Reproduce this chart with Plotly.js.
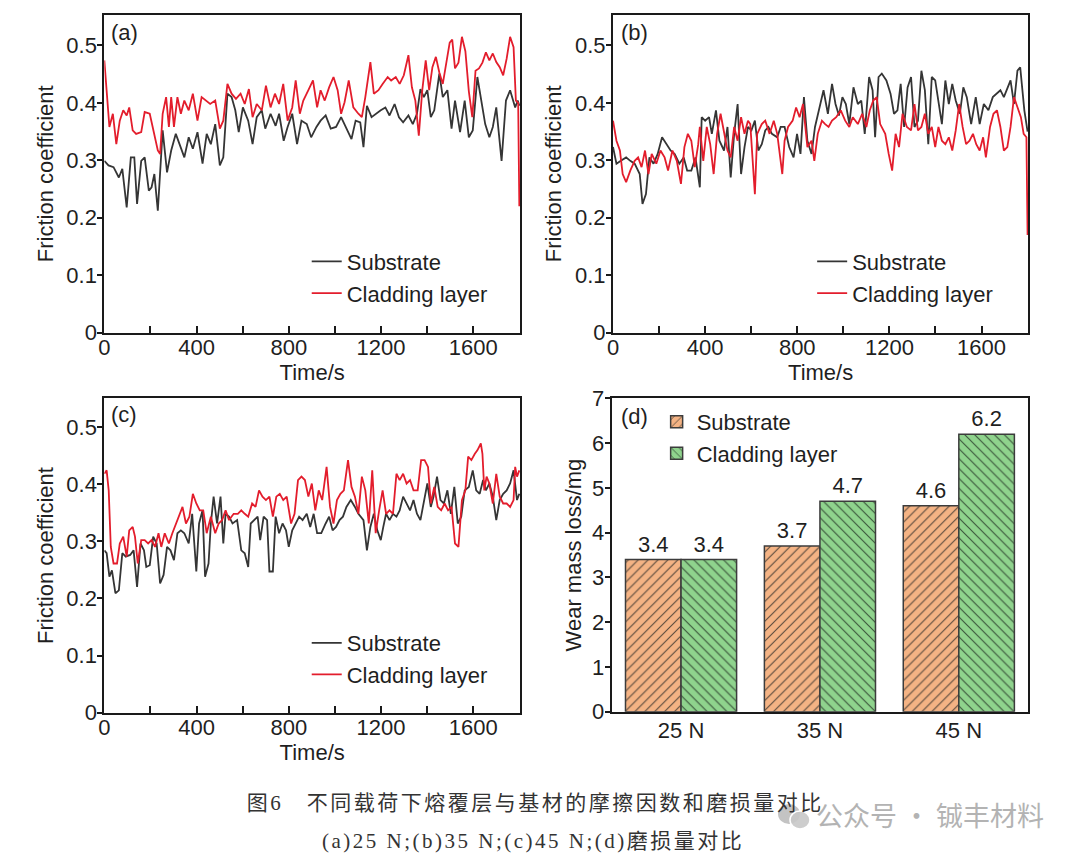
<!DOCTYPE html>
<html>
<head>
<meta charset="utf-8">
<script src="https://cdn.plot.ly/plotly-3.0.1.min.js"></script>
<style>
html,body{margin:0;padding:0;background:#fff;}
#chart{width:1080px;height:857px;}
</style>
</head>
<body>
<div id="chart"></div>
<script>
// ---------- (a) 25 N ----------
const timeA_sub = [0,18,40,63,78,97,115,130,142,160,
175,193,205,217,232,242,253,272,290,310,
329,347,366,384,404,426,444,462,481,501,
516,534,552,568,583,601,624,643,661,683,
698,721,743,758,778,795,815,836,855,878,
897,920,938,960,982,1005,1027,1050,1072,1090,
1110,1124,1139,1159,1177,1199,1219,1237,1259,1278,
1296,1319,1338,1356,1371,1386,1401,1416,1431,1453,
1468,1488,1506,1521,1543,1563,1581,1598,1618,1633,
1652,1670,1685,1700,1723,1742,1760,1782,1793,1800];
const fricA_sub = [0.299,0.291,0.288,0.270,0.285,0.218,0.305,0.305,0.224,0.299,
0.305,0.247,0.253,0.276,0.212,0.288,0.352,0.279,0.317,0.346,
0.323,0.305,0.340,0.320,0.349,0.294,0.346,0.328,0.363,0.291,
0.305,0.416,0.410,0.387,0.349,0.392,0.369,0.328,0.375,0.387,
0.355,0.381,0.360,0.381,0.334,0.358,0.381,0.328,0.369,0.363,
0.340,0.358,0.369,0.378,0.355,0.358,0.375,0.355,0.337,0.369,
0.366,0.323,0.395,0.375,0.381,0.387,0.392,0.378,0.398,0.375,
0.366,0.378,0.363,0.381,0.424,0.410,0.422,0.375,0.387,0.451,
0.410,0.422,0.355,0.404,0.349,0.404,0.340,0.352,0.445,0.410,
0.363,0.340,0.358,0.392,0.299,0.404,0.422,0.392,0.404,0.395];
const timeA_clad = [0,10,22,37,52,67,82,97,108,123,
138,160,175,197,217,232,242,253,268,280,
290,302,317,332,347,366,384,404,422,441,
459,481,501,516,534,552,571,591,609,627,
643,661,683,701,721,740,758,776,795,815,
830,848,863,885,905,923,938,956,975,994,
1012,1027,1042,1060,1080,1102,1117,1132,1154,1169,
1189,1207,1229,1244,1264,1281,1299,1319,1334,1349,
1364,1379,1394,1409,1423,1438,1453,1468,1483,1498,
1509,1521,1536,1551,1566,1581,1596,1610,1625,1640,
1655,1670,1685,1700,1715,1730,1745,1760,1775,1785,
1795,1800];
const fricA_clad = [0.474,0.427,0.358,0.381,0.328,0.369,0.387,0.378,0.392,0.352,
0.346,0.349,0.384,0.381,0.346,0.317,0.311,0.381,0.410,0.358,
0.410,0.358,0.410,0.381,0.404,0.387,0.416,0.369,0.410,0.404,
0.398,0.404,0.355,0.369,0.433,0.416,0.407,0.416,0.398,0.424,
0.375,0.398,0.387,0.430,0.392,0.416,0.398,0.433,0.369,0.392,
0.439,0.381,0.404,0.422,0.439,0.392,0.422,0.404,0.427,0.445,
0.422,0.381,0.401,0.439,0.392,0.381,0.375,0.410,0.471,0.416,
0.422,0.433,0.445,0.439,0.445,0.433,0.448,0.483,0.427,0.404,
0.343,0.422,0.474,0.422,0.462,0.480,0.453,0.433,0.470,0.505,
0.510,0.460,0.470,0.515,0.490,0.420,0.375,0.456,0.460,0.470,
0.488,0.474,0.486,0.471,0.462,0.448,0.477,0.515,0.497,0.404,
0.400,0.220];

// ---------- (b) 35 N ----------
const timeB_sub = [0,15,34,57,75,94,116,128,143,158,
176,194,213,233,250,268,288,307,322,340,
358,377,385,400,417,429,447,462,482,497,
511,526,541,556,571,586,601,616,631,646,
661,675,690,713,728,745,765,784,799,814,
829,844,862,877,895,914,933,951,966,981,
996,1011,1026,1044,1063,1078,1093,1112,1127,1138,
1153,1167,1187,1205,1220,1235,1249,1264,1279,1294,
1309,1324,1339,1354,1369,1384,1399,1413,1428,1443,
1458,1473,1488,1506,1521,1536,1555,1575,1592,1610,
1630,1649,1667,1682,1697,1712,1726,1741,1756,1768,
1779,1786,1800];
const fricB_sub = [0.323,0.294,0.299,0.305,0.299,0.294,0.276,0.224,0.241,0.305,
0.294,0.311,0.340,0.328,0.317,0.311,0.294,0.305,0.282,0.282,
0.305,0.253,0.375,0.369,0.375,0.346,0.387,0.334,0.317,0.358,
0.270,0.346,0.398,0.276,0.323,0.358,0.352,0.369,0.317,0.328,
0.352,0.358,0.346,0.340,0.358,0.358,0.323,0.305,0.346,0.311,
0.410,0.334,0.311,0.358,0.387,0.422,0.381,0.433,0.398,0.378,
0.410,0.398,0.363,0.427,0.398,0.404,0.346,0.445,0.422,0.340,
0.445,0.451,0.439,0.416,0.381,0.387,0.433,0.358,0.427,0.445,
0.358,0.369,0.456,0.422,0.328,0.445,0.439,0.404,0.363,0.439,
0.398,0.433,0.404,0.381,0.427,0.410,0.363,0.410,0.363,0.398,
0.387,0.410,0.416,0.422,0.410,0.427,0.439,0.398,0.456,0.462,
0.416,0.387,0.350];
const timeB_clad = [0,15,30,42,57,75,94,109,124,139,
154,168,188,206,224,239,258,277,295,310,
325,340,355,370,377,392,407,422,437,452,
467,482,497,511,526,541,556,571,586,596,
616,626,646,661,680,698,713,735,745,760,
780,795,810,825,844,862,874,889,907,921,
936,951,969,989,1008,1026,1041,1063,1082,1100,
1115,1130,1145,1160,1182,1197,1212,1227,1242,1257,
1276,1294,1309,1324,1339,1354,1369,1384,1399,1413,
1428,1443,1458,1473,1488,1503,1518,1533,1548,1563,
1577,1592,1607,1619,1637,1652,1667,1682,1697,1712,
1726,1741,1756,1771,1783,1795,1800];
const fricB_clad = [0.369,0.334,0.317,0.276,0.262,0.282,0.299,0.305,0.288,0.317,
0.276,0.311,0.294,0.317,0.305,0.282,0.317,0.299,0.259,0.323,
0.346,0.334,0.288,0.328,0.358,0.299,0.358,0.328,0.276,0.346,
0.381,0.352,0.317,0.305,0.358,0.334,0.375,0.346,0.369,0.363,
0.241,0.346,0.363,0.369,0.346,0.369,0.346,0.276,0.334,0.358,
0.369,0.392,0.375,0.398,0.323,0.334,0.299,0.346,0.369,0.363,
0.358,0.369,0.375,0.387,0.369,0.358,0.375,0.363,0.381,0.358,
0.387,0.404,0.410,0.363,0.346,0.311,0.282,0.346,0.323,0.381,
0.358,0.352,0.398,0.352,0.358,0.381,0.346,0.358,0.323,0.358,
0.334,0.328,0.340,0.317,0.352,0.398,0.358,0.328,0.334,0.346,
0.328,0.317,0.340,0.305,0.358,0.381,0.387,0.358,0.317,0.323,
0.358,0.410,0.392,0.375,0.346,0.340,0.170];

// ---------- (c) 45 N ----------
const timeC_sub = [0,10,22,33,48,63,78,93,112,127,
142,157,172,182,197,212,227,242,257,272,
287,302,317,332,347,366,381,399,411,426,
437,452,462,474,489,504,516,526,541,556,
576,594,609,624,635,650,665,676,691,706,
716,731,743,758,773,788,800,815,830,845,
860,878,893,908,923,941,960,975,990,1005,
1020,1035,1050,1069,1087,1102,1124,1139,1154,1169,
1184,1199,1210,1222,1237,1252,1267,1281,1296,1311,
1326,1341,1356,1371,1386,1401,1416,1428,1443,1458,
1473,1488,1503,1518,1533,1548,1563,1581,1598,1613,
1628,1643,1655,1670,1685,1700,1715,1730,1745,1760,
1775,1790,1800];
const fricC_sub = [0.284,0.279,0.238,0.249,0.209,0.214,0.279,0.273,0.276,0.284,
0.220,0.296,0.284,0.255,0.258,0.308,0.296,0.226,0.241,0.290,
0.284,0.267,0.314,0.319,0.314,0.296,0.348,0.247,0.331,0.354,
0.238,0.261,0.331,0.378,0.331,0.378,0.296,0.348,0.343,0.331,
0.337,0.284,0.279,0.255,0.331,0.337,0.343,0.302,0.343,0.337,
0.247,0.247,0.343,0.314,0.331,0.319,0.290,0.319,0.331,0.343,
0.337,0.348,0.325,0.348,0.314,0.314,0.331,0.343,0.319,0.325,
0.337,0.343,0.360,0.372,0.360,0.348,0.337,0.284,0.325,0.348,
0.319,0.302,0.325,0.348,0.337,0.348,0.343,0.354,0.378,0.366,
0.354,0.372,0.348,0.337,0.372,0.401,0.360,0.378,0.413,0.372,
0.366,0.389,0.348,0.395,0.331,0.343,0.389,0.395,0.424,0.389,
0.383,0.407,0.389,0.401,0.378,0.337,0.372,0.383,0.389,0.401,
0.424,0.372,0.383];
const timeC_clad = [0,10,19,28,40,55,67,82,97,108,
123,133,145,160,175,190,205,220,235,247,
262,280,295,310,324,339,354,369,384,399,
414,429,444,462,481,496,511,526,541,561,
579,594,609,624,641,656,671,686,701,716,
731,746,761,776,791,810,825,840,855,870,
885,900,915,930,945,964,979,994,1009,1024,
1039,1057,1072,1087,1102,1117,1132,1147,1162,1177,
1192,1207,1222,1237,1252,1267,1281,1296,1311,1326,
1341,1359,1374,1389,1404,1416,1431,1446,1461,1476,
1491,1506,1521,1536,1551,1566,1578,1592,1607,1618,
1633,1640,1648,1658,1670,1685,1700,1715,1730,1745,
1760,1775,1782,1790,1800];
const fricC_clad = [0.418,0.424,0.389,0.290,0.261,0.261,0.296,0.308,0.273,0.319,
0.325,0.308,0.261,0.302,0.302,0.296,0.302,0.290,0.314,0.290,
0.314,0.296,0.314,0.331,0.343,0.360,0.331,0.343,0.383,0.366,
0.354,0.354,0.314,0.343,0.314,0.331,0.337,0.354,0.337,0.348,
0.348,0.354,0.348,0.343,0.366,0.360,0.389,0.378,0.372,0.378,
0.343,0.378,0.383,0.372,0.378,0.331,0.348,0.407,0.413,0.407,
0.378,0.401,0.354,0.389,0.372,0.430,0.360,0.331,0.372,0.383,
0.389,0.442,0.395,0.378,0.348,0.413,0.389,0.331,0.424,0.314,
0.354,0.389,0.348,0.354,0.348,0.418,0.407,0.418,0.401,0.407,
0.389,0.389,0.442,0.442,0.430,0.366,0.395,0.360,0.354,0.366,
0.354,0.360,0.296,0.290,0.372,0.389,0.448,0.442,0.453,0.459,
0.471,0.453,0.389,0.413,0.401,0.366,0.418,0.378,0.366,0.366,
0.360,0.372,0.430,0.413,0.424];

// ---------- (d) wear mass loss ----------
const loads = ["25 N", "35 N", "45 N"];
const wearSub = [3.4, 3.7, 4.6];
const wearClad = [3.4, 4.7, 6.2];

const seriesNames = ["Substrate", "Cladding layer"];
const panelLabels = ["(a)", "(b)", "(c)", "(d)"];
const xTitle = "Time/s";
const yTitleFric = "Friction coefficient";
const yTitleWear = "Wear mass loss/mg";
const caption1 = "图6\u3000不同载荷下熔覆层与基材的摩擦因数和磨损量对比";
const caption2 = "(a)25 N;(b)35 N;(c)45 N;(d)磨损量对比";
const watermark = "公众号 · 铖丰材料";

// ---------- styling ----------
const FONT = "Liberation Sans, Arial, Helvetica, sans-serif";
const TXT = "#1f1f1f";
const AX = "#1a1a1a";
const C_SUB = "#353535";
const C_CLAD = "#e31d2c";
const ORANGE = "#f4b384";
const GREEN = "#8fd38d";

function timeAxis(domain, anchor) {
  return {
    domain: domain, anchor: anchor, range: [0, 1803],
    tick0: 0, dtick: 400, ticks: "inside", ticklen: 7, tickwidth: 2, tickcolor: AX,
    minor: {dtick: 200, ticks: "inside", ticklen: 7, tickwidth: 2, tickcolor: AX},
    showline: true, linewidth: 2, linecolor: AX, mirror: true,
    showgrid: false, zeroline: false, automargin: false,
    ticklabelstandoff: -6,
    tickfont: {family: FONT, size: 22, color: TXT},
    title: {text: xTitle, font: {family: FONT, size: 22, color: TXT}, standoff: 0}
  };
}
function fricAxis(domain, anchor, top) {
  return {
    domain: domain, anchor: anchor, range: [0, top],
    tick0: 0, dtick: 0.1, ticks: "outside", ticklen: 5, tickwidth: 2, tickcolor: AX,
    showline: true, linewidth: 2, linecolor: AX, mirror: true,
    showgrid: false, zeroline: false, automargin: false,
    ticklabelstandoff: -4,
    tickfont: {family: FONT, size: 22, color: TXT},
    title: {text: yTitleFric, font: {family: FONT, size: 22, color: TXT}, standoff: 7}
  };
}
function legendBox(x, y) {
  return {x: x, y: y, xanchor: "left", yanchor: "middle", bgcolor: "rgba(0,0,0,0)",
    borderwidth: 0, tracegroupgap: 0, itemwidth: 30,
    font: {family: FONT, size: 22, color: TXT}};
}
function lineTrace(t, v, name, color, xa, ya, lg) {
  return {type: "scatter", mode: "lines", x: t, y: v, name: name,
    line: {color: color, width: 1.8}, xaxis: xa, yaxis: ya, legend: lg, cliponaxis: true};
}

const traces = [
  lineTrace(timeA_sub, fricA_sub, seriesNames[0], C_SUB, "x", "y", "legend"),
  lineTrace(timeA_clad, fricA_clad, seriesNames[1], C_CLAD, "x", "y", "legend"),
  lineTrace(timeB_sub, fricB_sub, seriesNames[0], C_SUB, "x2", "y2", "legend2"),
  lineTrace(timeB_clad, fricB_clad, seriesNames[1], C_CLAD, "x2", "y2", "legend2"),
  lineTrace(timeC_sub, fricC_sub, seriesNames[0], C_SUB, "x3", "y3", "legend3"),
  lineTrace(timeC_clad, fricC_clad, seriesNames[1], C_CLAD, "x3", "y3", "legend3"),
  {type: "bar", x: loads, y: wearSub, name: seriesNames[0], xaxis: "x4", yaxis: "y4", legend: "legend4",
   marker: {color: ORANGE, line: {color: "#3c3c3c", width: 1.5},
            pattern: {shape: "/", bgcolor: ORANGE, fgcolor: "#5a4a3c", size: 7, solidity: 0.16, fillmode: "replace"}},
   texttemplate: "%{y:.1f}", textposition: "outside", cliponaxis: false,
   textfont: {family: FONT, size: 22, color: TXT}},
  {type: "bar", x: loads, y: wearClad, name: seriesNames[1], xaxis: "x4", yaxis: "y4", legend: "legend4",
   marker: {color: GREEN, line: {color: "#3c3c3c", width: 1.5},
            pattern: {shape: "\\", bgcolor: GREEN, fgcolor: "#3a543a", size: 7, solidity: 0.16, fillmode: "replace"}},
   texttemplate: "%{y:.1f}", textposition: "outside", cliponaxis: false,
   textfont: {family: FONT, size: 22, color: TXT}}
];

const labelFont = {family: FONT, size: 22, color: TXT};
function panelLabel(text, x, y) {
  return {text: text, xref: "paper", yref: "paper", x: x, y: y, xanchor: "left", yanchor: "middle",
    showarrow: false, font: labelFont};
}

const layout = {
  width: 1080, height: 857,
  margin: {l: 0, r: 0, t: 0, b: 0},
  paper_bgcolor: "#ffffff", plot_bgcolor: "#ffffff",
  showlegend: true,
  barmode: "group", bargap: 0.2, bargroupgap: 0,
  xaxis: timeAxis([0.0966, 0.4815], "y"),
  yaxis: fricAxis([0.612, 0.9825], "x", 0.553),
  xaxis2: timeAxis([0.5676, 0.9521], "y2"),
  yaxis2: fricAxis([0.612, 0.9825], "x2", 0.553),
  xaxis3: timeAxis([0.0966, 0.4815], "y3"),
  yaxis3: fricAxis([0.1684, 0.5352], "x3", 0.55),
  xaxis4: {domain: [0.5663, 0.9521], anchor: "y4", type: "category",
    ticks: "", showline: true, linewidth: 2, linecolor: AX, mirror: true,
    showgrid: false, zeroline: false, automargin: false,
    ticklabelstandoff: -2,
    tickfont: {family: FONT, size: 22, color: TXT}},
  yaxis4: {domain: [0.1695, 0.5352], anchor: "x4", range: [0, 7],
    tick0: 0, dtick: 1, ticks: "outside", ticklen: 5, tickwidth: 2, tickcolor: AX,
    showline: true, linewidth: 2, linecolor: AX, mirror: true,
    showgrid: false, zeroline: false, automargin: false,
    ticklabelstandoff: -4,
    tickfont: {family: FONT, size: 22, color: TXT},
    title: {text: yTitleWear, font: {family: FONT, size: 22, color: TXT}, standoff: 4}},
  legend: legendBox(0.284, 0.676),
  legend2: legendBox(0.752, 0.676),
  legend3: legendBox(0.284, 0.231),
  legend4: legendBox(0.608, 0.489),
  annotations: [
    panelLabel(panelLabels[0], 0.101, 0.9615),
    panelLabel(panelLabels[1], 0.573, 0.9615),
    panelLabel(panelLabels[2], 0.101, 0.5158),
    panelLabel(panelLabels[3], 0.573, 0.5138),
    {text: caption1, xref: "paper", yref: "paper", x: 535.5/1080, y: 1 - 803/857,
     xanchor: "center", yanchor: "middle", showarrow: false,
     font: {family: "Liberation Serif, Noto Sans CJK SC, serif", size: 21, color: "#333333"}},
    {text: caption2, xref: "paper", yref: "paper", x: 532.5/1080, y: 1 - 841/857,
     xanchor: "center", yanchor: "middle", showarrow: false,
     font: {family: "Liberation Serif, Noto Sans CJK SC, serif", size: 21, color: "#333333"}},
    {text: watermark, xref: "paper", yref: "paper", x: 1046/1080, y: 1 - 814/857,
     xanchor: "right", yanchor: "middle", showarrow: false,
     font: {family: "Noto Sans CJK SC, sans-serif", size: 27, color: "#b3b3b3"}}
  ],
  shapes: [
    {type: "circle", xref: "paper", yref: "paper", layer: "above",
     x0: 778/1080, x1: 800/1080, y0: 1 - 824/857, y1: 1 - 804/857,
     fillcolor: "rgba(185,185,185,0.85)", line: {width: 0}},
    {type: "circle", xref: "paper", yref: "paper", layer: "above",
     x0: 790/1080, x1: 810/1080, y0: 1 - 829/857, y1: 1 - 811/857,
     fillcolor: "rgba(200,200,200,0.9)", line: {color: "#ffffff", width: 1.5}}
  ]
};

Plotly.newPlot("chart", traces, layout, {displayModeBar: false, staticPlot: true}).then(function () {
  // caption letter spacing like the printed figure caption
  document.querySelectorAll("g.annotation text.annotation-text").forEach(function (el) {
    const t = el.textContent;
    if (t === caption1 || t === caption2) { el.style.letterSpacing = "2.5px"; }
  });
});
</script>
</body>
</html>
